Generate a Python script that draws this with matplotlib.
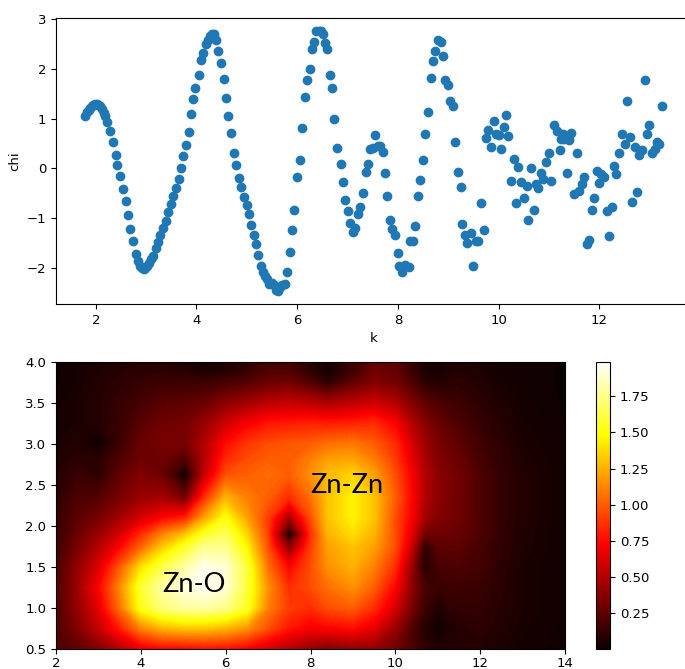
from matplotlib import pyplot as plt
from matplotlib.cm import ScalarMappable
from matplotlib.colors import Normalize
import numpy as np

k_points = [1.78,1.83,1.86,1.89,1.92,1.95,1.98,2.02,2.05,2.09,2.12,2.16,2.19,2.23,2.28,2.34,2.40,2.43,2.48,2.54,
            2.60,2.63,2.68,2.74,2.79,2.84,2.87,2.91,2.95,2.98,3.02,3.06,3.10,3.14,3.20,3.24,3.28,3.34,3.39,3.44,
            3.49,3.53,3.59,3.65,3.70,3.73,3.79,3.85,3.89,3.93,3.98,4.04,4.09,4.13,4.18,4.23,4.27,4.31,4.34,4.39,
            4.43,4.49,4.54,4.58,4.63,4.69,4.74,4.79,4.84,4.88,4.94,5.00,5.04,5.08,5.14,5.19,5.23,5.29,5.33,5.37,
            5.41,5.44,5.49,5.53,5.58,5.62,5.65,5.69,5.75,5.80,5.85,5.89,5.94,6.00,6.05,6.09,6.15,6.20,6.25,6.29,
            6.34,6.38,6.43,6.47,6.51,6.55,6.60,6.65,6.70,6.74,6.80,6.86,6.91,6.95,7.00,7.05,7.11,7.15,7.20,7.25,
            7.31,7.36,7.40,7.45,7.50,7.54,7.60,7.64,7.70,7.75,7.79,7.84,7.89,7.94,8.00,8.03,8.09,8.14,8.22,8.23,
            8.29,8.34,8.40,8.44,8.49,8.54,8.60,8.65,8.69,8.74,8.79,8.85,8.89,8.94,8.99,9.04,9.09,9.14,9.19,9.25,
            9.28,9.34,9.38,9.45,9.50,9.56,9.60,9.65,9.70,9.74,9.79,9.85,9.90,9.95,10.00,10.05,10.10,10.15,10.19,10.25,
            10.30,10.35,10.39,10.44,10.50,10.56,10.59,10.64,10.70,10.75,10.79,10.84,10.89,10.95,11.01,11.04,11.09,11.15,11.21,11.24,
            11.28,11.30,11.35,11.36,11.40,11.44,11.49,11.55,11.60,11.66,11.70,11.76,11.80,11.85,11.89,11.95,11.99,12.04,12.10,12.15,
            12.20,12.25,12.29,12.34,12.40,12.45,12.50,12.54,12.60,12.65,12.70,12.74,12.79,12.85,12.90,12.94,12.99,13.05,13.10,13.15,
            13.19,13.25]
chi_points = [1.06,1.13,1.18,1.22,1.26,1.28,1.29,1.30,1.28,1.25,1.20,1.12,1.05,0.94,0.76,0.54,0.27,0.07,-0.15,-0.41,
              -0.66,-0.94,-1.21,-1.46,-1.71,-1.85,-1.95,-2.00,-2.01,-2.00,-1.95,-1.89,-1.82,-1.76,-1.59,-1.47,-1.34,-1.19,-1.06,-0.87,
              -0.72,-0.55,-0.39,-0.21,0.01,0.25,0.47,0.74,1.09,1.39,1.62,1.88,2.18,2.32,2.50,2.57,2.65,2.69,2.69,2.57,
              2.35,2.12,1.80,1.42,1.05,0.72,0.32,0.07,-0.19,-0.37,-0.57,-0.73,-0.92,-1.14,-1.34,-1.51,-1.73,-1.96,-2.07,-2.15,
              -2.21,-2.32,-2.30,-2.33,-2.43,-2.45,-2.38,-2.33,-2.31,-2.08,-1.67,-1.23,-0.83,-0.17,0.18,0.82,1.44,1.77,2.00,2.40,
              2.54,2.75,2.76,2.76,2.69,2.52,2.39,1.88,1.62,1.00,0.42,0.09,-0.28,-0.63,-0.86,-1.10,-1.28,-1.19,-0.91,-0.77,
              -0.50,-0.08,0.09,0.40,0.42,0.67,0.46,0.46,0.34,-0.09,-0.55,-1.03,-1.21,-1.34,-1.69,-1.95,-2.07,-1.94,-1.98,-1.46,
              -1.46,-1.16,-0.55,-0.23,0.18,0.69,1.13,1.82,2.15,2.36,2.57,2.53,2.26,1.78,1.67,1.36,1.25,0.53,-0.08,-0.37,
              -1.12,-1.34,-1.50,-1.30,-1.95,-1.45,-1.45,-0.70,-1.24,0.62,0.77,0.44,0.95,0.69,0.67,0.40,0.84,1.07,0.66,-0.25,
              0.20,-0.70,0.03,-0.27,-0.59,-0.36,-1.03,0.01,-0.83,-0.31,-0.39,-0.10,-0.21,0.13,0.31,-0.26,0.88,0.76,0.38,0.60,
              0.70,0.60,-0.09,0.64,0.58,0.72,-0.51,0.31,-0.46,-0.31,-0.17,-1.52,-1.44,-0.83,-0.59,-0.05,-0.30,-0.12,-0.17,-0.85,
              -1.36,-0.78,0.05,-0.11,0.31,0.70,0.49,1.35,0.64,-0.68,0.44,-0.48,0.28,0.38,1.77,0.69,0.88,0.31,0.40,0.53,
              0.49,1.26]

k_grid = [2,2.5,3,3.5,4,4.5,5.05,5.5,6,6.5,7,7.5,8,8.4,9,9.5,10,10.4,10.7,11,11.5,12,12.5,13,14]
r_grid = [0.5,0.75,1,1.25,1.5,1.75,1.9,2.1,2.35,2.63,2.8,3,3.25,3.5,3.75,3.9,4]
row_050 = [.20,.25,.35,.50,.65,.72,.72,.75,.75,.70,.60,.50,.40,.35,.40,.40,.30,.20,.10,.06,.08,.07,.05,.03,.02]
row_075 = [.20,.35,.55,.80,1.10,1.25,1.30,1.30,1.25,1.15,.95,.78,.70,.72,.75,.65,.42,.20,.08,.03,.08,.10,.07,.04,.02]
row_100 = [.20,.40,.65,1.05,1.52,1.72,1.80,1.80,1.75,1.55,1.10,.90,.85,.95,1.00,.85,.60,.32,.15,.06,.12,.12,.08,.05,.02]
row_125 = [.20,.42,.72,1.12,1.58,1.80,1.92,1.97,1.90,1.60,1.15,.85,.95,1.05,1.15,1.00,.72,.38,.18,.14,.15,.14,.09,.05,.02]
row_150 = [.18,.40,.62,.98,1.38,1.62,1.80,1.95,1.90,1.60,1.05,.72,.95,1.15,1.25,1.10,.85,.40,.07,.18,.20,.17,.10,.05,.02]
row_175 = [.15,.32,.50,.72,1.00,1.30,1.55,1.75,1.75,1.45,.95,.35,.90,1.20,1.30,1.20,.95,.55,.10,.24,.25,.18,.11,.06,.02]
row_190 = [.13,.28,.42,.60,.85,1.10,1.30,1.55,1.65,1.35,.90,.03,.85,1.25,1.38,1.25,.95,.62,.30,.30,.27,.20,.12,.06,.02]
row_210 = [.12,.24,.32,.45,.60,.72,.82,1.20,1.50,1.20,.90,.45,.95,1.30,1.45,1.30,.95,.70,.45,.36,.30,.20,.12,.07,.02]
row_235 = [.10,.20,.22,.32,.42,.45,.30,.85,1.25,1.10,1.00,.85,1.05,1.30,1.45,1.30,1.00,.72,.50,.38,.30,.20,.12,.07,.02]
row_263 = [.08,.14,.10,.25,.35,.28,.02,.55,.95,1.00,1.05,1.00,1.15,1.28,1.35,1.20,.95,.70,.50,.38,.30,.20,.12,.07,.02]
row_280 = [.06,.10,.10,.20,.30,.30,.20,.50,.85,.95,1.00,1.00,1.10,1.20,1.22,1.10,.90,.65,.47,.36,.28,.18,.11,.06,.02]
row_300 = [.05,.07,.01,.15,.28,.32,.32,.50,.75,.88,.95,.98,1.00,1.05,1.08,1.00,.85,.60,.44,.33,.25,.16,.10,.05,.02]
row_325 = [.04,.05,.08,.14,.23,.30,.32,.42,.58,.70,.78,.80,.82,.80,.82,.85,.72,.50,.37,.28,.20,.13,.08,.04,.01]
row_350 = [.03,.05,.08,.13,.18,.23,.25,.28,.38,.45,.52,.55,.52,.48,.52,.58,.50,.35,.25,.20,.15,.10,.06,.03,.01]
row_375 = [.02,.04,.07,.10,.13,.15,.15,.15,.18,.22,.28,.30,.20,.10,.25,.35,.30,.20,.10,.08,.10,.07,.04,.02,.01]
row_390 = [.02,.04,.06,.08,.10,.10,.08,.05,.07,.12,.20,.20,.10,.02,.15,.30,.27,.13,.05,.03,.07,.05,.03,.02,.01]
row_400 = [.02,.03,.05,.07,.08,.08,.06,.04,.06,.10,.17,.18,.10,.05,.15,.27,.25,.13,.07,.05,.06,.05,.03,.02,.01]
rows = [row_050,row_075,row_100,row_125,row_150,row_175,row_190,row_210,row_235,row_263,row_280,row_300,row_325,row_350,row_375,row_390,row_400]

plt.rcParams['font.size'] = 9.5

W,H = 685,669
def box(left,top,right,bottom):
    return [left/W,1-bottom/H,(right-left)/W,(bottom-top)/H]

fig = plt.figure(figsize=(W/100,H/100),dpi=100)

ax1 = fig.add_axes(box(56,17.5,691,304))
ax1.scatter(k_points,chi_points)
ax1.set_xlim(1.21,13.82)
ax1.set_ylim(-2.72,3.03)
ax1.set_xlabel('k')
ax1.set_ylabel('chi')

ax2 = fig.add_axes(box(56,361.7,565,649))
vmax = 1.99
ax2.contourf(k_grid,r_grid,np.array(rows),levels=np.linspace(0,vmax,160),cmap='hot',vmin=0,vmax=vmax)
ax2.set_xlim(2,14)
ax2.set_ylim(0.5,4)
ax2.tick_params(axis='x',pad=2.5)
ax2.text(4.5,1.2,'Zn-O',fontsize=19.5,family='Lato')
ax2.text(8,2.4,'Zn-Zn',fontsize=19.5,family='Lato')

cax = fig.add_axes(box(595.7,361.7,610.3,649))
cb = fig.colorbar(ScalarMappable(Normalize(0,vmax),'hot'),cax=cax)
cb.set_ticks([0.25,0.5,0.75,1,1.25,1.5,1.75])

fig.savefig('out.png',dpi=100)
